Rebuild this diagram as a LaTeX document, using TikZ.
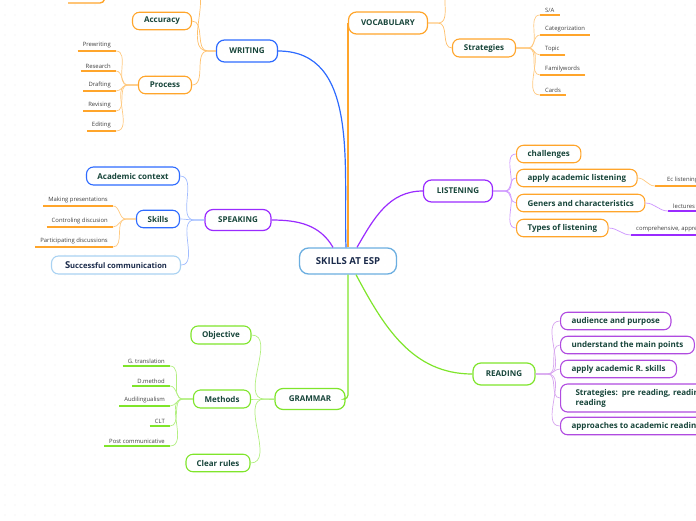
\documentclass[tikz,border=0pt]{standalone}
\usepackage{fontspec}
\setmainfont{Open Sans}
\usetikzlibrary{calc}
\definecolor{textgruen}{HTML}{17453A}
\definecolor{kernblau}{HTML}{6BAEE0}
\definecolor{kerntext}{HTML}{1B2B4B}
\definecolor{blau}{HTML}{2E6BFF}
\definecolor{hellblau}{HTML}{A9D2F2}
\definecolor{orange}{HTML}{FFA52B}
\definecolor{violett}{HTML}{9A2BFF}
\definecolor{lila}{HTML}{B04BE0}
\definecolor{gruen}{HTML}{7FE52B}

\begin{document}
\begin{tikzpicture}[x=1pt, y=1pt,
        kern/.style={draw=kernblau, line width=1.3, rounded corners=9, fill=white,
                      font=\fontsize{9.6}{11}\selectfont\bfseries, text=kerntext,
                      minimum width=97, minimum height=26},
        haupt/.style={draw=#1, line width=1.2, rounded corners=8, fill=white,
                      font=\fontsize{8}{9}\selectfont\bfseries, text=textgruen,
                      minimum height=22, inner xsep=2},
        ast/.style={draw=#1, line width=1.1, rounded corners=7, fill=white,
                      font=\fontsize{8}{9}\selectfont\bfseries, text=textgruen,
                      minimum height=17.5, inner xsep=2},
        links/.style={anchor=west, inner xsep=11},
        blatt/.style={font=\fontsize{5.9}{7}\selectfont, text=black!75,
                      inner xsep=5, inner ysep=2.6},
        strich/.style={line width=1.4},
        zweig/.style={line width=1.2},
        fein/.style={line width=0.7}
      ]
      \useasboundingbox (0,0) rectangle (696,-520);
      \clip (0,0) rectangle (696,-520);

      % Punktraster
      \foreach \i in {0,...,69}
        \foreach \j in {0,...,52}
          \fill[black!9] (\i*10+5, -\j*10-5) circle (0.7);

      % Mitte
      \node[kern] (esp) at (348,-261) {SKILLS AT ESP};

      % Hauptzweige
      \node[haupt=blau, minimum width=61] (wri) at (247,-51) {WRITING};
      \node[haupt=orange, minimum width=79] (voc) at (388,-23) {VOCABULARY};
      \node[haupt=violett, minimum width=66, minimum height=21] (spk) at (238,-220) {SPEAKING};
      \node[haupt=violett, minimum width=69] (lis) at (458,-191) {LISTENING};
      \node[haupt=gruen, minimum width=62] (rea) at (504,-374) {READING};
      \node[haupt=gruen, minimum width=70, minimum height=21] (gra) at (310,-399) {GRAMMAR};

      \draw[zweig, blau] ([xshift=-2]esp.north) to[out=92,in=0] (wri.east);
      \draw[zweig, orange] (voc.west |- esp.north) -- (voc.west);
      \draw[zweig, violett] ([xshift=-15]esp.north) to[out=120,in=0] (spk.east);
      \draw[zweig, violett] ([xshift=9]esp.north) to[out=60,in=180] (lis.west);
      \draw[zweig, gruen] ([xshift=8]esp.south) to[out=-62,in=180] (rea.west);
      \draw[zweig, gruen, rounded corners=4] (esp.south) |- (gra.east);

      % WRITING
      \node[ast=orange, minimum width=59] (acc) at (162,-21) {Accuracy};
      \node[ast=orange, minimum width=53] (pro) at (165,-85) {Process};
      \coordinate (woben) at (190,14);
      \foreach \z in {acc, pro, woben}
        \draw[fein, orange!70] (wri.west) -- ++(-8,0) to[out=180,in=0] (\z.east);
      \draw[strich, orange] (68,-3) -- (100,-3) to[out=0,in=-100] (106,8);
      \foreach \n/\t/\y in {p1/Prewriting/51, p2/Research/71, p3/Drafting/91,
                            p4/Revising/111, p5/Editing/131} {
        \node[blatt, anchor=south east] (\n) at (116,-\y) {\t};
        \draw[strich, orange] (\n.south west) -- (\n.south east);
        \draw[fein, orange!60] (pro.west) -- ++(-10,0) to[out=180,in=0] (\n.south east);
      }

      % VOCABULARY
      \node[ast=orange, minimum width=63, minimum height=18] (str) at (484,-48) {Strategies};
      \coordinate (voben) at (452,14);
      \foreach \z in {str, voben}
        \draw[fein, orange!70] (voc.east) -- ++(10,0) to[out=0,in=180] (\z.west);
      \foreach \n/\t/\y in {v1/{S/A}/15, v2/Categorization/35, v3/Topic/55,
                            v4/Familywords/75, v5/Cards/95} {
        \node[blatt, anchor=south west] (\n) at (540,-\y) {\t};
        \draw[strich, orange] (\n.south west) -- (\n.south east);
        \draw[fein, orange!60] (str.east) -- ++(12,0) to[out=0,in=180] (\n.south west);
      }

      % SPEAKING
      \node[ast=blau, minimum width=93, minimum height=18] (aca) at (133,-176) {Academic context};
      \node[ast=blau, minimum width=43] (ski) at (158,-219) {Skills};
      \node[ast=hellblau, minimum width=129, minimum height=18, text=kerntext,
            font=\fontsize{7.6}{9}\selectfont\bfseries] (suc) at (116,-265)
        {{\fontsize{9.5}{10}\selectfont S}uccessful communication};
      \foreach \z in {aca, ski, suc}
        \draw[fein, blau!45] (spk.west) -- ++(-10,0) to[out=180,in=0] (\z.east);
      \foreach \n/\t/\y in {s1/Making presentations/206, s2/Controling discusion/227,
                            s3/Participating discussions/247} {
        \node[blatt, anchor=south east] (\n) at (113,-\y) {\t};
        \draw[strich, orange] (\n.south west) -- (\n.south east);
        \draw[fein, orange!60] (ski.west) -- ++(-10,0) to[out=180,in=0] (\n.south east);
      }

      % LISTENING
      \foreach \n/\t/\y in {l1/challenges/154, l2/apply academic listening/178,
                            l3/Geners and characteristics/203, l4/Types of listening/228} {
        \node[ast=orange, links] (\n) at (516,-\y) {\t};
        \draw[fein, violett!50] (lis.east) -- ++(12,0) to[out=0,in=180] (\n.west);
      }
      \node[blatt, anchor=south west, inner xsep=12] (b1) at (655,-186) {Ec listening};
      \draw[strich, orange] (b1.south west) -- (b1.south east);
      \draw[fein, orange!60] (l2.east) to[out=0,in=180] (b1.south west);
      \node[blatt, anchor=south west] (b2) at (668,-211) {lectures and talks};
      \draw[strich, violett] (b2.south west) -- (b2.south east);
      \draw[fein, violett!50] (l3.east) to[out=0,in=180] (b2.south west);
      \node[blatt, anchor=south west] (b3) at (631,-235) {comprehensive, appreciative};
      \draw[strich, violett] (b3.south west) -- (b3.south east);
      \draw[fein, violett!50] (l4.east) to[out=0,in=180] (b3.south west);

      % READING
      \foreach \n/\t/\y in {r1/audience and purpose/321, r2/understand the main points/345,
                            r3/apply academic R. skills/369,
                            r5/approaches to academic reading/426} {
        \node[ast=lila, links] (\n) at (560,-\y) {\t};
        \draw[fein, lila!50] (rea.east) -- ++(12,0) to[out=0,in=180] (\n.west);
      }
      \node[ast=lila, anchor=west, text width=200, inner xsep=12, align=left,
            minimum height=28, font=\fontsize{8}{10}\selectfont\bfseries] (r4) at (560,-398)
        {\hspace*{3pt}Strategies: pre reading, reading while\\ \hspace*{3pt}reading};
      \draw[fein, lila!50] (rea.east) -- ++(12,0) to[out=0,in=180] (r4.west);

      % GRAMMAR
      \node[ast=gruen, minimum width=60, minimum height=18] (obj) at (221,-335) {Objective};
      \node[ast=gruen, minimum width=57, minimum height=18] (met) at (222,-399) {Methods};
      \node[ast=gruen, minimum width=64] (cle) at (218,-463) {Clear rules};
      \foreach \z in {obj, met, cle}
        \draw[fein, gruen!60] (gra.west) -- ++(-10,0) to[out=180,in=0] (\z.east);
      \foreach \n/\t/\y in {g1/G. translation/366, g2/D.method/386, g3/Audilingualism/406,
                            g4/CLT/426, g5/Post communicative/446} {
        \node[blatt, anchor=south east] (\n) at (170,-\y) {\t};
        \draw[strich, gruen] (\n.south west) -- (\n.south east);
        \draw[fein, gruen!60] (met.west) -- ++(-10,0) to[out=180,in=0] (\n.south east);
      }
    \end{tikzpicture}
\end{document}
